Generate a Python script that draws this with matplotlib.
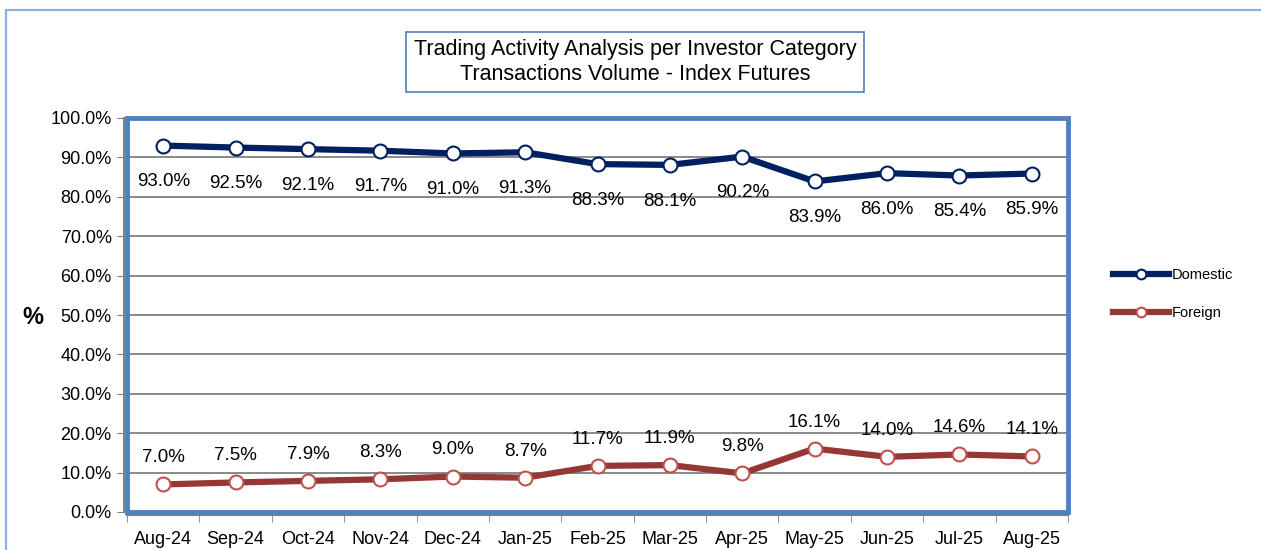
import matplotlib
matplotlib.use('Agg')
from matplotlib import pyplot as plt
from matplotlib.patches import Rectangle
from matplotlib.lines import Line2D
from matplotlib.ticker import FuncFormatter, FixedLocator

months = ['Aug-24', 'Sep-24', 'Oct-24', 'Nov-24', 'Dec-24', 'Jan-25', 'Feb-25',
          'Mar-25', 'Apr-25', 'May-25', 'Jun-25', 'Jul-25', 'Aug-25']
domestic = [93.0, 92.5, 92.1, 91.7, 91.0, 91.3, 88.3, 88.1, 90.2, 83.9, 86.0, 85.4, 85.9]
foreign = [7.0, 7.5, 7.9, 8.3, 9.0, 8.7, 11.7, 11.9, 9.8, 16.1, 14.0, 14.6, 14.1]

fam = ['Liberation Sans Narrow', 'Liberation Sans', 'DejaVu Sans']
plt.rcParams['font.family'] = fam

navy = '#002060'
red = '#953735'
red_edge = '#C0504D'
frame_blue = '#4F81BD'

fig = plt.figure(figsize=(12.61, 5.5), dpi=100)
# outer chart border: only left and top edges are visible
W, H = 1261, 550
fig.lines.append(Line2D([6 / W, 6 / W, 1.0], [0, 1 - 10 / H, 1 - 10 / H],
                        transform=fig.transFigure, color='#8DB3E2', lw=1.6))

ax = fig.add_axes([127 / W, 1 - 512 / H, 941 / W, 394 / H])
x = list(range(len(months)))

ax.plot(x, domestic, color=navy, lw=4.5, marker='o', ms=10,
        mfc='white', mec=navy, mew=1.5, label='Domestic', zorder=4)
ax.plot(x, foreign, color=red, lw=4.5, marker='o', ms=10,
        mfc='white', mec=red_edge, mew=1.5, label='Foreign', zorder=4)

for i in x:
    ax.annotate('%.1f%%' % domestic[i], (i, domestic[i]), xytext=(0, -20),
                textcoords='offset points', ha='center', va='top', fontsize=13.5)
    ax.annotate('%.1f%%' % foreign[i], (i, foreign[i]), xytext=(0, 13),
                textcoords='offset points', ha='center', va='bottom', fontsize=13.5)

ax.set_xlim(-0.5, len(months) - 0.5)
ax.set_ylim(0, 100)
ax.set_yticks(range(0, 101, 10))
ax.yaxis.set_major_formatter(FuncFormatter(lambda v, p: '%.1f%%' % v))
ax.set_xticks(x)
ax.set_xticklabels(months)
ax.xaxis.set_minor_locator(FixedLocator([i - 0.5 for i in range(len(months) + 1)]))
ax.tick_params(axis='x', which='major', length=0, labelsize=13, pad=12)
ax.tick_params(axis='x', which='minor', length=5, color='#808080', direction='out')
ax.tick_params(axis='y', length=5, color='#808080', labelsize=13, pad=4)
ax.grid(axis='y', color='#808080', lw=1.3)
ax.set_axisbelow(True)
for s in ['top', 'right']:
    ax.spines[s].set_visible(False)
for s in ['left', 'bottom']:
    ax.spines[s].set_color('#808080')
    ax.spines[s].set_linewidth(1.5)
    ax.spines[s].set_position(('outward', 2))
ax.add_patch(Rectangle((0, 0), 1, 1, transform=ax.transAxes, fill=False,
                       edgecolor=frame_blue, lw=3.5, zorder=5, clip_on=False))

fig.text(33 / W, 1 - 318 / H, '%', fontsize=17, fontweight='bold',
         ha='center', va='center')

fig.text(635 / W, 1 - 62 / H,
         'Trading Activity Analysis per Investor Category\nTransactions Volume - Index Futures',
         ha='center', va='center', fontsize=15.5, linespacing=1.2,
         bbox=dict(boxstyle='square,pad=0.35', fc='white', ec=frame_blue, lw=1.2))

leg = fig.legend(loc='center left', bbox_to_anchor=(1100 / W, 1 - 294 / H),
                 frameon=False, fontsize=10.5, handlelength=3.8, handletextpad=0.2,
                 labelspacing=1.6, markerscale=0.7)

fig.savefig('out.png', dpi=100)
